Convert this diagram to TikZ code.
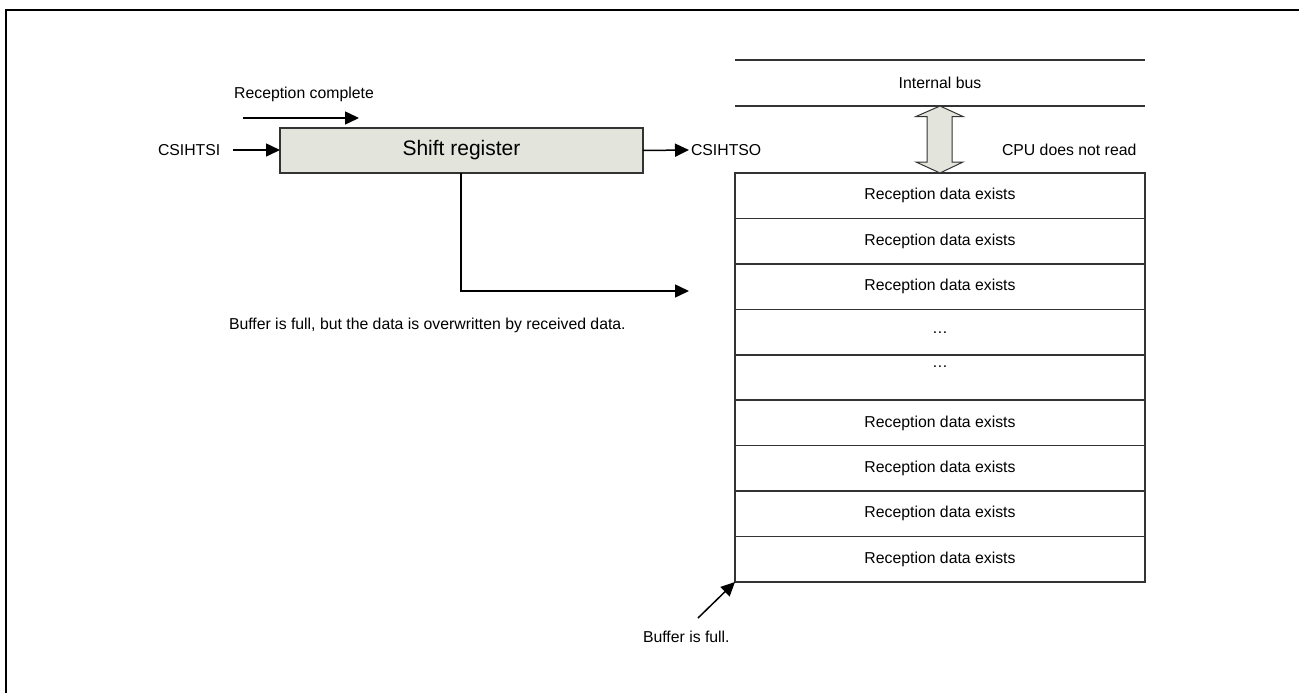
\documentclass[tikz,border=0pt]{standalone}
\usepackage{fontspec}
\setmainfont{Liberation Sans}
\usetikzlibrary{arrows.meta,positioning}
\definecolor{regfill}{HTML}{E3E4DC}
\definecolor{linegray}{HTML}{333333}
\tikzset{
  lbl/.style={font=\fontsize{15.8}{18}\selectfont, inner sep=0pt, outer sep=0pt, text=black},
  row/.style={draw=linegray, line width=1.5pt, minimum width=410pt, minimum height=45.44pt, inner sep=0pt, outer sep=0pt, anchor=north west, font=\fontsize{15.8}{18}\selectfont},
  arr/.style={line width=1.5pt, -{Triangle[length=14pt,width=13pt]}},
}
\begin{document}
\begin{tikzpicture}[x=1pt,y=-1pt]
\useasboundingbox (0,0) rectangle (1299,693);
% frame
\draw[line width=2.2pt] (6,693) -- (6,10) -- (1299,10);

% shift register
\node[draw=linegray, line width=1.5pt, fill=regfill, minimum width=363pt, minimum height=45pt, inner sep=0pt, outer sep=0pt, anchor=north west, font=\fontsize{21}{24}\selectfont] (sr) at (280,128) {Shift register};

% reception complete
\node[lbl] (rc) at (304,94) {Reception complete};
\coordinate (rcA) at (243,118);
\coordinate (rcB) at (359,118);
\draw[arr] (rcA) -- (rcB);

% CSIHTSI
\node[lbl, anchor=west] (si) at (158,150) {CSIHTSI};
\draw[arr] (233,150) -- (sr.west |- 0,150);

% CSIHTSO
\node[lbl, anchor=west] (so) at (691,150) {CSIHTSO};
\draw[arr] (sr.east) -- ([xshift=-2pt]so.west);

% internal bus
\coordinate (ibL1) at (735,60);
\coordinate (ibR1) at (1145,60);
\coordinate (ibL2) at (735,106);
\coordinate (ibR2) at (1145,106);
\draw[linegray, line width=1.5pt] (ibL1) -- (ibR1);
\draw[linegray, line width=1.5pt] (ibL2) -- (ibR2);
\node[lbl] (ib) at (940,83) {Internal bus};

% buffer rows
\node[row] (r1) at (735,173) {Reception data exists};
\node[row] (r2) at (r1.south west) {Reception data exists};
\node[row] (r3) at (r2.south west) {Reception data exists};
\node[row] (r4) at (r3.south west) {};
\node[row] (r5) at (r4.south west) {};
\node[row] (r6) at (r5.south west) {Reception data exists};
\node[row] (r7) at (r6.south west) {Reception data exists};
\node[row] (r8) at (r7.south west) {Reception data exists};
\node[row] (r9) at (r8.south west) {Reception data exists};
\node[lbl] (d1) at ([yshift=-1pt]r4.center) {…};
\node[lbl] (d2) at ([yshift=11pt]r5.center) {…};

% double arrow
\draw[linegray, line width=1pt, fill=regfill]
  (940,106) -- (963,116.5) -- (952,116.5) -- (952,162) -- (963,162) -- (940,173)
  -- (916,162) -- (927,162) -- (927,116.5) -- (916,116.5) -- cycle;

\node[lbl, anchor=west] (cpu) at (1002,150) {CPU does not read};

% L connector to buffer
\coordinate (lEnd) at (689,291);
\draw[arr] (sr.south -| 461,0) |- (lEnd);

\node[lbl, anchor=west] (ovr) at (229,325) {Buffer is full, but the data is overwritten by received data.};

% buffer is full
\node[lbl, anchor=west] (bf) at (643,637) {Buffer is full.};
\coordinate (bfA) at (698,618);
\draw[arr] (bfA) -- (r9.south west);
\end{tikzpicture}
\end{document}
